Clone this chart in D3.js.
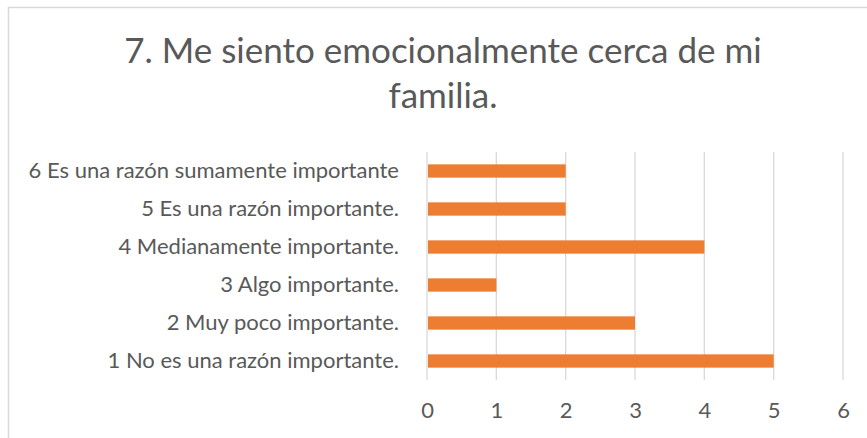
<!DOCTYPE html>
<html>
<head>
<meta charset="utf-8">
<script src="https://cdn.jsdelivr.net/npm/d3@7"></script>
<style>
  body { margin: 0; background: #fff; }
  svg { display: block; font-family: Lato, "Open Sans", sans-serif; }
</style>
</head>
<body>
<div id="chart"></div>
<script>
// chart data
var titleLines = ["7. Me siento emocionalmente cerca de mi", "familia."];
var categories = [
  "6 Es una razón sumamente importante",
  "5 Es una razón importante.",
  "4 Medianamente importante.",
  "3 Algo importante.",
  "2 Muy poco importante.",
  "1 No es una razón importante."
];
var counts = [2, 2, 4, 1, 3, 5];
var xTicks = [0, 1, 2, 3, 4, 5, 6];

var svgWidth = 867;
var svgHeight = 438;

var margin = { top: 152, right: 24, bottom: 58, left: 427 };
var width = svgWidth - margin.left - margin.right;
var height = svgHeight - margin.top - margin.bottom;

var svg = d3.select("#chart")
  .append("svg")
  .attr("width", svgWidth)
  .attr("height", svgHeight);

// outer chart border
svg.append("rect")
  .attr("x", 8.5)
  .attr("y", 7.5)
  .attr("width", svgWidth + 10)
  .attr("height", svgHeight + 10)
  .attr("fill", "none")
  .attr("stroke", "#d9d9d9")
  .attr("stroke-width", 1.5);

// title
svg.append("text")
  .attr("x", 443)
  .attr("y", 63)
  .attr("text-anchor", "middle")
  .attr("fill", "#595959")
  .style("font-size", "35px")
  .selectAll("tspan")
  .data(titleLines)
  .enter()
  .append("tspan")
  .attr("x", 443)
  .attr("dy", (d, i) => i === 0 ? 0 : 45)
  .text(d => d);

var chartGroup = svg.append("g")
  .attr("transform", `translate(${margin.left}, ${margin.top})`);

var xScale = d3.scaleLinear()
  .domain([0, 6])
  .range([0, width]);

var yScale = d3.scaleBand()
  .domain(categories)
  .range([0, height])
  .paddingInner(0.65)
  .paddingOuter(0.325);

// gridlines
chartGroup.selectAll(".grid")
  .data(xTicks)
  .enter()
  .append("line")
  .attr("class", "grid")
  .attr("x1", d => xScale(d))
  .attr("x2", d => xScale(d))
  .attr("y1", 0)
  .attr("y2", height)
  .attr("stroke", "#d9d9d9")
  .attr("stroke-width", 1.3);

// bars
chartGroup.selectAll(".bar")
  .data(counts)
  .enter()
  .append("rect")
  .attr("class", "bar")
  .attr("x", xScale(0) + 1)
  .attr("y", (d, i) => yScale(categories[i]))
  .attr("width", d => xScale(d) - xScale(0) - 1)
  .attr("height", yScale.bandwidth())
  .attr("fill", "#ed7d31");

// x axis
var bottomAxis = d3.axisBottom(xScale)
  .tickValues(xTicks)
  .tickFormat(d3.format("d"))
  .tickSize(0)
  .tickPadding(22);

var xAxis = chartGroup.append("g")
  .attr("transform", `translate(0, ${height})`)
  .call(bottomAxis);
xAxis.select(".domain").remove();
xAxis.selectAll("text")
  .attr("fill", "#595959")
  .style("font-size", "22px")
  .style("font-family", "Lato, sans-serif");

// y axis
var leftAxis = d3.axisLeft(yScale)
  .tickSize(0)
  .tickPadding(28);

var yAxis = chartGroup.append("g")
  .call(leftAxis);
yAxis.select(".domain").remove();
yAxis.selectAll("text")
  .attr("fill", "#595959")
  .style("font-size", "22px")
  .style("font-family", "Lato, sans-serif");
</script>
</body>
</html>
